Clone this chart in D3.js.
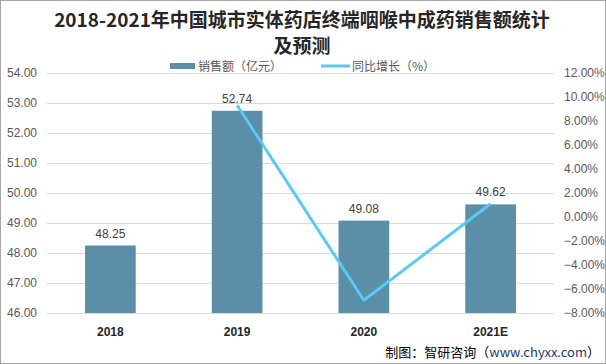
<!DOCTYPE html>
<html><head><meta charset="utf-8">
<script src="https://cdn.jsdelivr.net/npm/d3@7"></script>
<style>body{margin:0;background:#fff;}svg{display:block;font-family:"Noto Sans CJK SC","Noto Sans",sans-serif;}</style>
</head><body>
<svg id="c" width="606" height="364"></svg>
<script>
const categories = ["2018","2019","2020","2021E"];
const sales = [48.25, 52.74, 49.08, 49.62];
const growth = [null, 9.31, -6.94, 1.10];
const leftTicks = [46,47,48,49,50,51,52,53,54];
const rightTicks = [-8,-6,-4,-2,0,2,4,6,8,10,12];

const svg = d3.select("#c");
const W = 606, H = 364;
svg.append("rect").attr("x",0.5).attr("y",0.5).attr("width",W-1).attr("height",H-1).attr("fill","#fff").attr("stroke","#a6a6a6");

const x = d3.scaleBand().domain(categories).range([47,554]).paddingInner(0.6).paddingOuter(0.3);
const yL = d3.scaleLinear().domain([46,54]).range([313,73]);
const yR = d3.scaleLinear().domain([-8,12]).range([313,73]);

// title
const title = svg.append("text").attr("text-anchor","middle").attr("font-weight","bold").attr("font-size",19).attr("fill","#262626");
title.append("tspan").attr("x",302).attr("y",27).text("2018-2021年中国城市实体药店终端咽喉中成药销售额统计");
title.append("tspan").attr("x",302).attr("y",53).text("及预测");

// gridlines
svg.append("g").selectAll("line").data(leftTicks.slice(1)).join("line")
  .attr("x1",47).attr("x2",554).attr("y1",d=>yL(d)+0.5).attr("y2",d=>yL(d)+0.5)
  .attr("stroke","#d9d9d9").attr("stroke-width",1);

// left axis
const gl = svg.append("g").attr("transform","translate(47,0)")
  .call(d3.axisLeft(yL).tickValues(leftTicks).tickFormat(d3.format(".2f")).tickSize(0).tickPadding(10));
gl.select(".domain").remove();
gl.selectAll("text").attr("font-size",12).attr("fill","#595959").attr("font-family","Liberation Sans, sans-serif");

// right axis
const gr = svg.append("g").attr("transform","translate(554,0)")
  .call(d3.axisRight(yR).tickValues(rightTicks).tickFormat(d=>d3.format(".2f")(d)+"%").tickSize(0).tickPadding(10));
gr.select(".domain").remove();
gr.selectAll("text").attr("font-size",12).attr("fill","#595959").attr("font-family","Liberation Sans, sans-serif");

// bars
svg.append("g").selectAll("rect").data(categories).join("rect")
  .attr("x",d=>x(d)).attr("width",x.bandwidth())
  .attr("y",(d,i)=>yL(sales[i])).attr("height",(d,i)=>yL(46)-yL(sales[i]))
  .attr("fill","#5b8fa8");

// baseline
svg.append("line").attr("x1",47).attr("x2",554).attr("y1",313.5).attr("y2",313.5).attr("stroke","#d9d9d9");

// bar labels
svg.append("g").selectAll("text").data(categories).join("text")
  .attr("x",d=>x(d)+x.bandwidth()/2).attr("y",(d,i)=>yL(sales[i])-8)
  .attr("text-anchor","middle").attr("font-size",12).attr("fill","#404040")
  .attr("font-family","Liberation Sans, sans-serif")
  .text((d,i)=>sales[i].toFixed(2));

// line
const pts = categories.map((c,i)=>({c,v:growth[i]})).filter(p=>p.v!==null);
svg.append("path").datum(pts)
  .attr("d", d3.line().x(p=>x(p.c)+x.bandwidth()/2).y(p=>yR(p.v)))
  .attr("fill","none").attr("stroke","#5bc8f5").attr("stroke-width",3).attr("stroke-linejoin","round");

// category labels
svg.append("g").selectAll("text").data(categories).join("text")
  .attr("x",d=>x(d)+x.bandwidth()/2).attr("y",336)
  .attr("text-anchor","middle").attr("font-size",12).attr("font-weight","bold").attr("fill","#262626")
  .attr("font-family","Liberation Sans, sans-serif")
  .text(d=>d);

// legend
const lg = svg.append("g");
lg.append("rect").attr("x",170).attr("y",63).attr("width",25).attr("height",6).attr("fill","#5b8fa8");
lg.append("text").attr("x",198).attr("y",71).attr("font-size",12).attr("fill","#595959").text("销售额（亿元）");
lg.append("line").attr("x1",321).attr("x2",350).attr("y1",66).attr("y2",66).attr("stroke","#5bc8f5").attr("stroke-width",3);
lg.append("text").attr("x",352).attr("y",71).attr("font-size",12).attr("fill","#595959").text("同比增长（%）");

// source
const src = svg.append("text").attr("x",600).attr("y",357).attr("text-anchor","end").attr("font-size",13).attr("fill","#000");
src.append("tspan").text("制图：智研咨询（");
src.append("tspan").attr("fill","#1f3864").text("www.chyxx.com");
src.append("tspan").text("）");
</script>
</body></html>
